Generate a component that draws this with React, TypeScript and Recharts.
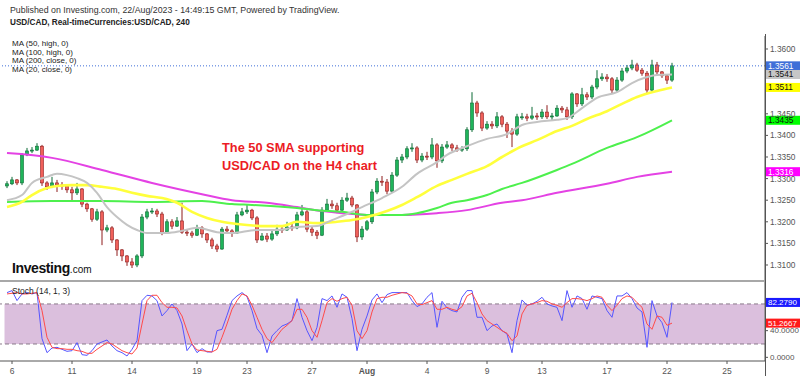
import React from 'react';
import { ComposedChart, Bar, Line, XAxis, YAxis, ReferenceLine, ReferenceArea } from 'recharts';

const FONT = '"Liberation Sans", Arial, sans-serif';

// USD/CAD H4 candles (open of each candle = previous close)
const firstOpen = 1.3283;
const closes = [
  1.3288, 1.3297, 1.329, 1.3355, 1.3364, 1.3366, 1.3375, 1.329, 1.3281, 1.329,
  1.3285, 1.3283, 1.3274, 1.3267, 1.3276, 1.3241, 1.323, 1.3206, 1.3223, 1.3181,
  1.3186, 1.3158, 1.3135, 1.3121, 1.3107, 1.31, 1.3121, 1.3211, 1.3223, 1.3225,
  1.3218, 1.3176, 1.32, 1.319, 1.3202, 1.3176, 1.3174, 1.3169, 1.3186, 1.3172,
  1.3158, 1.3144, 1.3137, 1.3183, 1.3179, 1.3174, 1.3216, 1.3223, 1.3227, 1.3209,
  1.3158, 1.3167, 1.316, 1.3172, 1.3183, 1.3181, 1.3188, 1.3186, 1.3216, 1.3223,
  1.3183, 1.3176, 1.3169, 1.3227, 1.3241, 1.3237, 1.3227, 1.325, 1.3255, 1.3239,
  1.3165, 1.3183, 1.32, 1.3269, 1.3294, 1.3292, 1.3271, 1.3308, 1.3343, 1.335,
  1.3369, 1.3371, 1.3343, 1.3352, 1.335, 1.3378, 1.3341, 1.3373, 1.3378, 1.3371,
  1.3366, 1.3369, 1.3413, 1.3475, 1.3452, 1.3417, 1.3426, 1.3422, 1.3443, 1.3426,
  1.341, 1.3403, 1.3443, 1.3443, 1.344, 1.3445, 1.3443, 1.3454, 1.3443, 1.3445,
  1.3463, 1.3459, 1.3443, 1.3496, 1.3473, 1.3494, 1.3489, 1.3512, 1.3531, 1.3535,
  1.3531, 1.3505, 1.3528, 1.3549, 1.3556, 1.3563, 1.3551, 1.3544, 1.3505, 1.3563,
  1.3547, 1.3538, 1.3528, 1.3561,
];
const highs = [
  1.3294, 1.3304, 1.3299, 1.3359, 1.3371, 1.3373, 1.3382, 1.3378, 1.3294, 1.3304,
  1.3297, 1.3292, 1.3285, 1.3281, 1.329, 1.3278, 1.3244, 1.3232, 1.323, 1.3227,
  1.3193, 1.319, 1.316, 1.3137, 1.3123, 1.3116, 1.3125, 1.3218, 1.323, 1.3232,
  1.323, 1.3223, 1.3206, 1.3206, 1.3211, 1.3244, 1.3181, 1.3179, 1.3193, 1.319,
  1.3174, 1.3163, 1.3149, 1.3188, 1.319, 1.3183, 1.3223, 1.3232, 1.3239, 1.323,
  1.3213, 1.3174, 1.3174, 1.3179, 1.3193, 1.319, 1.32, 1.3195, 1.3223, 1.3239,
  1.3227, 1.3188, 1.3181, 1.3234, 1.3253, 1.325, 1.3244, 1.3257, 1.3267, 1.326,
  1.3241, 1.319, 1.3204, 1.3276, 1.3301, 1.3306, 1.3299, 1.3315, 1.335, 1.3357,
  1.3375, 1.3382, 1.3375, 1.3359, 1.3362, 1.3394, 1.3382, 1.338, 1.3387, 1.3382,
  1.3378, 1.3375, 1.3419, 1.35, 1.348, 1.3456, 1.3433, 1.3433, 1.3454, 1.3447,
  1.3431, 1.3417, 1.345, 1.3452, 1.345, 1.3466, 1.3452, 1.3461, 1.347, 1.3452,
  1.347, 1.3468, 1.3466, 1.35, 1.3498, 1.351, 1.35, 1.3517, 1.3551, 1.3544,
  1.3542, 1.3535, 1.3535, 1.3556, 1.3563, 1.3575, 1.3568, 1.3556, 1.3549, 1.3575,
  1.357, 1.3549, 1.3542, 1.3568,
];
const lows = [
  1.3278, 1.3285, 1.3285, 1.3285, 1.3352, 1.3359, 1.3364, 1.3283, 1.3274, 1.3278,
  1.3269, 1.3274, 1.3267, 1.3246, 1.3262, 1.3234, 1.3223, 1.32, 1.3202, 1.3146,
  1.3176, 1.3151, 1.3121, 1.3109, 1.3098, 1.3093, 1.3095, 1.3116, 1.3206, 1.3218,
  1.3211, 1.3169, 1.3172, 1.3183, 1.3188, 1.3172, 1.3167, 1.3163, 1.3167, 1.3163,
  1.3151, 1.3137, 1.313, 1.3135, 1.3172, 1.3165, 1.3172, 1.3213, 1.3218, 1.3204,
  1.3151, 1.3156, 1.3153, 1.3156, 1.3167, 1.3174, 1.3179, 1.3179, 1.3183, 1.3213,
  1.3176, 1.3167, 1.316, 1.3167, 1.3225, 1.323, 1.322, 1.3223, 1.3246, 1.3234,
  1.3153, 1.3158, 1.3179, 1.3195, 1.3264, 1.3283, 1.3264, 1.3267, 1.3304, 1.3336,
  1.3345, 1.3362, 1.3336, 1.3338, 1.3343, 1.3345, 1.3325, 1.3336, 1.3369, 1.3364,
  1.3362, 1.3362, 1.3364, 1.3408, 1.3443, 1.341, 1.3413, 1.3415, 1.3417, 1.3419,
  1.3394, 1.3373, 1.3399, 1.3436, 1.3433, 1.3436, 1.3436, 1.3438, 1.3438, 1.3436,
  1.3443, 1.3452, 1.3436, 1.3438, 1.3466, 1.3468, 1.3482, 1.3484, 1.3507, 1.3526,
  1.3524, 1.3496, 1.35, 1.3524, 1.3544, 1.3551, 1.3547, 1.3538, 1.3498, 1.35,
  1.354, 1.3533, 1.3519, 1.3524,
];

// moving averages, [candle index, value]
const ma20 = [
  [0, 1.325], [3, 1.3262], [5, 1.329], [8, 1.3304], [10, 1.3311], [12, 1.3308], [14, 1.3301],
  [16, 1.329], [18, 1.3267], [20, 1.3234], [22, 1.3211], [24, 1.3193], [26, 1.3181], [28, 1.3174],
  [32, 1.3174], [35, 1.3179], [38, 1.3186], [42, 1.3176], [45, 1.3174], [50, 1.3181], [54, 1.3181],
  [58, 1.3188], [62, 1.319], [65, 1.3204], [68, 1.3218], [71, 1.3234], [75, 1.3255], [79, 1.3281],
  [82, 1.3311], [86, 1.3338], [88, 1.3355], [92, 1.3375], [96, 1.3392], [100, 1.3403], [103, 1.3424],
  [106, 1.3431], [110, 1.3436], [112, 1.344], [115, 1.3463], [118, 1.3487], [122, 1.35], [125, 1.3521],
  [128, 1.3535], [130, 1.354], [133, 1.3541],
];
const ma50 = [
  [0, 1.3234], [3, 1.3246], [5, 1.3262], [8, 1.3278], [10, 1.3283], [13, 1.3285], [16, 1.3285],
  [19, 1.3281], [22, 1.3276], [25, 1.3267], [28, 1.326], [31, 1.3255], [34, 1.3244], [37, 1.3223],
  [40, 1.3209], [43, 1.32], [46, 1.3195], [52, 1.319], [55, 1.319], [58, 1.32], [62, 1.3197],
  [66, 1.32], [69, 1.3204], [72, 1.3211], [76, 1.3225], [79, 1.3239], [82, 1.3257], [86, 1.3283],
  [89, 1.3297], [92, 1.3311], [96, 1.3329], [99, 1.335], [103, 1.3375], [106, 1.3389], [110, 1.341],
  [113, 1.3422], [116, 1.3438], [120, 1.3456], [123, 1.3473], [126, 1.3489], [130, 1.3503], [133, 1.3511],
];
const ma100 = [
  [0, 1.3246], [9, 1.3248], [19, 1.3248], [29, 1.3246], [39, 1.3248], [45, 1.3241], [49, 1.3239],
  [58, 1.3232], [62, 1.3227], [67, 1.3223], [72, 1.3216], [79, 1.3216], [82, 1.322], [86, 1.3232],
  [89, 1.3244], [92, 1.325], [96, 1.3262], [99, 1.3276], [103, 1.329], [110, 1.332], [113, 1.3334],
  [120, 1.3371], [126, 1.3396], [133, 1.3435],
];
const ma200 = [
  [0, 1.3359], [9, 1.3348], [19, 1.332], [29, 1.329], [39, 1.3264], [45, 1.325], [52, 1.3244],
  [58, 1.3234], [63, 1.3225], [67, 1.322], [72, 1.3216], [79, 1.3216], [86, 1.322], [92, 1.3227],
  [99, 1.3244], [103, 1.325], [110, 1.3267], [120, 1.3288], [126, 1.3304], [133, 1.3316],
];

// Stoch (14, 1, 3)
const stochK = [
  97, 100, 85, 95, 97, 95, 97, 28, 7, 14, 15, 12, 9, 10, 22, 4, 3, 10, 20, 23,
  26, 17, 10, 7, 2, 12, 25, 85, 93, 92, 85, 62, 70, 80, 70, 50, 10, 20, 7, 13,
  8, 8, 40, 42, 63, 85, 92, 97, 91, 70, 43, 33, 7, 32, 40, 47, 50, 55, 88, 60,
  40, 25, 45, 88, 85, 92, 75, 95, 90, 58, 10, 42, 62, 86, 95, 82, 94, 97, 97, 97,
  97, 85, 76, 80, 90, 97, 45, 84, 74, 70, 68, 90, 100, 100, 60, 60, 40, 47, 50, 40,
  35, 7, 55, 86, 78, 80, 84, 90, 80, 77, 75, 55, 100, 75, 92, 88, 72, 92, 90, 88,
  70, 60, 92, 92, 97, 88, 74, 68, 15, 85, 62, 52, 30, 82.279,
];
const stochD = [
  95, 96, 97, 95, 95, 96, 97, 70, 30, 15, 13, 13, 12, 12, 10, 9, 6, 6, 12, 17,
  22, 20, 15, 10, 7, 5, 14, 50, 85, 93, 93, 82, 75, 75, 74, 62, 40, 20, 11, 10,
  9, 8, 12, 30, 50, 72, 85, 95, 92, 78, 60, 42, 28, 22, 32, 42, 48, 55, 72, 72,
  60, 40, 30, 55, 82, 88, 84, 88, 90, 78, 40, 28, 40, 68, 88, 90, 90, 93, 95, 97,
  96, 92, 80, 79, 82, 85, 72, 72, 75, 72, 70, 76, 92, 96, 82, 65, 55, 50, 45, 40,
  36, 25, 32, 65, 78, 80, 82, 85, 84, 80, 78, 75, 82, 88, 88, 87, 85, 88, 92, 90,
  78, 70, 78, 88, 92, 90, 82, 75, 50, 42, 62, 60, 48, 51.2667,
];

const dateTicks = [1, 13, 25, 38, 48, 61, 72, 84, 96, 107, 120, 132, 144];
const dateLabels = ['6', '11', '14', '19', '23', '27', 'Aug', '4', '9', '13', '17', '22', '25'];
const priceTicks = [1.31, 1.315, 1.32, 1.325, 1.33, 1.335, 1.34, 1.345, 1.36];
const priceTags = [1.3561, 1.3541, 1.3511, 1.3435, 1.3316];
const stochTags = [82.279, 51.2667];
const stochTicks = [0, 40];

const SLOTS = 152;

const rows: any[] = Array.from({ length: SLOTS }, (_, i) => {
  if (i >= closes.length) return { i };
  const o = i === 0 ? firstOpen : closes[i - 1];
  return { i, o, h: highs[i], l: lows[i], c: closes[i], range: [lows[i], highs[i]], k: stochK[i], d: stochD[i] };
});
[['ma20', ma20], ['ma50', ma50], ['ma100', ma100], ['ma200', ma200]].forEach(([key, pts]: any) => {
  pts.forEach(([idx, v]: number[]) => {
    rows[idx][key] = v;
  });
});

const tagStyles = [
  { bg: '#3f6fd8', fg: '#fff' },
  { bg: '#c6c6c6', fg: '#111' },
  { bg: '#ffff00', fg: '#111' },
  { bg: '#00ff00', fg: '#111' },
  { bg: '#ff00ff', fg: '#fff' },
];
const stochTagStyles = [
  { bg: '#1a1aff', fg: '#fff' },
  { bg: '#ff1a1a', fg: '#fff' },
];

function Candle(props: any) {
  const { x, y, width, height, payload } = props;
  if (payload == null || payload.c == null) return null;
  const { o, h, l, c } = payload;
  const top = Math.min(y, y + height);
  const span = Math.abs(height);
  const py = (v: number) => top + ((h - v) / (h - l)) * span;
  const up = c >= o;
  const bTop = py(Math.max(o, c));
  const bBot = py(Math.min(o, c));
  const cx = x + width / 2;
  const stroke = up ? '#0b6b34' : '#8e1b1b';
  return (
    <g>
      <line x1={cx} x2={cx} y1={top} y2={top + span} stroke={stroke} strokeWidth={1} />
      <rect
        x={x}
        y={bTop}
        width={width}
        height={Math.max(1, bBot - bTop)}
        fill={up ? '#1fb45a' : '#f0605a'}
        stroke={stroke}
        strokeWidth={0.6}
      />
    </g>
  );
}

function Tag(props: any) {
  const { viewBox, text, bg, fg, size } = props;
  if (!viewBox) return null;
  const x = viewBox.x + viewBox.width;
  const y = viewBox.y;
  return (
    <g>
      <rect x={x + 1} y={y - 4.5} width={34} height={9} fill={bg} />
      <text x={x + 3} y={y} dy="0.35em" fontSize={size ?? 8.3} fill={fg} fontFamily={FONT}>
        {text}
      </text>
    </g>
  );
}

function DateTick(props: any) {
  const { x, y, payload } = props;
  const idx = dateTicks.indexOf(payload.value);
  const label = dateLabels[idx] ?? '';
  return (
    <text
      x={x}
      y={y + 8}
      textAnchor="middle"
      fontSize={8.5}
      fill="#555"
      fontFamily={FONT}
      fontWeight={label === 'Aug' ? 'bold' : 'normal'}
    >
      {label}
    </text>
  );
}

export default function App() {
  return (
    <div style={{ position: 'absolute', left: 0, top: 0, width: 800, height: 376, background: '#fff', fontFamily: FONT, overflow: 'hidden' }}>
      <div style={{ position: 'absolute', left: 10, top: 5, fontSize: 8.8, color: '#333', whiteSpace: 'nowrap' }}>
        Published on Investing.com, 22/Aug/2023 - 14:49:15 GMT, Powered by TradingView.
      </div>
      <div style={{ position: 'absolute', left: 10, top: 18, fontSize: 8.2, fontWeight: 'bold', color: '#222', whiteSpace: 'nowrap' }}>
        USD/CAD, Real-timeCurrencies:USD/CAD, 240
      </div>

      <div style={{ position: 'absolute', left: 0, top: 36 }}>
        <ComposedChart width={800} height={245} data={rows} margin={{ top: 0, right: 0, bottom: 0, left: 0 }}>
          <XAxis dataKey="i" type="category" scale="band" hide padding={{ left: 4.5, right: 0.5 }} />
          <YAxis
            orientation="right"
            width={35}
            domain={[1.306296, 1.363009]}
            allowDataOverflow
            ticks={priceTicks}
            interval={0}
            tickFormatter={(v: number) => v.toFixed(4)}
            tick={{ fontSize: 8.3, fill: '#555', fontFamily: FONT }}
            tickSize={3}
            tickMargin={2}
            stroke="#555"
          />
          <Line dataKey="ma200" type="monotone" connectNulls dot={false} stroke="#e442e4" strokeWidth={2} isAnimationActive={false} />
          <Line dataKey="ma100" type="monotone" connectNulls dot={false} stroke="#4df04d" strokeWidth={2} isAnimationActive={false} />
          <Line dataKey="ma50" type="monotone" connectNulls dot={false} stroke="#ffff3c" strokeWidth={2.6} isAnimationActive={false} />
          <Line dataKey="ma20" type="monotone" connectNulls dot={false} stroke="#c4c4c4" strokeWidth={2} isAnimationActive={false} />
          <Bar dataKey="range" barSize={3} shape={<Candle />} isAnimationActive={false} />
          {priceTags.map((v, n) => (
            <ReferenceLine
              key={v}
              y={v}
              stroke={n === 0 ? '#3f6fd8' : 'none'}
              strokeDasharray="1 2"
              label={<Tag text={v.toFixed(4)} bg={tagStyles[n].bg} fg={tagStyles[n].fg} />}
            />
          ))}
        </ComposedChart>
      </div>

      <div style={{ position: 'absolute', left: 12, top: 40, fontSize: 8, lineHeight: '8.5px', color: '#222', whiteSpace: 'nowrap' }}>
        <div>MA (50, high, 0)</div>
        <div>MA (100, high, 0)</div>
        <div>MA (200, close, 0)</div>
        <div>MA (20, close, 0)</div>
      </div>

      <div style={{ position: 'absolute', left: 222, top: 139, fontSize: 12.8, lineHeight: '18px', fontWeight: 'bold', color: '#ec1c24', whiteSpace: 'nowrap' }}>
        <div>The 50 SMA supporting</div>
        <div>USD/CAD on the H4 chart</div>
      </div>

      <div style={{ position: 'absolute', left: 12, top: 259, color: '#111', whiteSpace: 'nowrap' }}>
        <span style={{ fontSize: 14, fontWeight: 'bold', letterSpacing: -0.4 }}>Investing</span>
        <span style={{ fontSize: 10 }}>.com</span>
      </div>

      <div style={{ position: 'absolute', left: 0, top: 280, width: 765, height: 2, background: '#a8a8a8' }} />
      <div style={{ position: 'absolute', left: 765, top: 34, width: 1, height: 342, background: '#555' }} />

      <div style={{ position: 'absolute', left: 0, top: 282 }}>
        <ComposedChart width={800} height={94} data={rows} margin={{ top: 0, right: 0, bottom: 0, left: 0 }}>
          <XAxis
            dataKey="i"
            type="category"
            scale="band"
            padding={{ left: 4.5, right: 0.5 }}
            ticks={dateTicks}
            interval={0}
            height={15}
            tick={<DateTick />}
            tickSize={3}
            stroke="#555"
          />
          <YAxis
            orientation="right"
            width={35}
            domain={[-5.5, 112.9]}
            allowDataOverflow
            ticks={stochTicks}
            interval={0}
            tickFormatter={(v: number) => v.toFixed(4)}
            tick={{ fontSize: 8, fill: '#555', fontFamily: FONT }}
            tickSize={3}
            tickMargin={2}
            stroke="#555"
          />
          <ReferenceArea y1={20} y2={80} fill="#dbbfdd" fillOpacity={1} stroke="none" />
          <ReferenceLine y={80} stroke="#8a7a8a" strokeDasharray="4 3" />
          <ReferenceLine y={20} stroke="#8a7a8a" strokeDasharray="4 3" />
          <Line dataKey="k" type="linear" dot={false} stroke="#5555ff" strokeWidth={1} isAnimationActive={false} />
          <Line dataKey="d" type="linear" dot={false} stroke="#ff4a4a" strokeWidth={1} isAnimationActive={false} />
          {stochTags.map((v, n) => (
            <ReferenceLine
              key={v}
              y={v}
              stroke="none"
              label={<Tag text={v.toFixed(4)} size={8} bg={stochTagStyles[n].bg} fg={stochTagStyles[n].fg} />}
            />
          ))}
        </ComposedChart>
      </div>

      <div style={{ position: 'absolute', left: 12, top: 286, fontSize: 8.5, color: '#222', whiteSpace: 'nowrap' }}>
        Stoch (14, 1, 3)
      </div>
    </div>
  );
}
